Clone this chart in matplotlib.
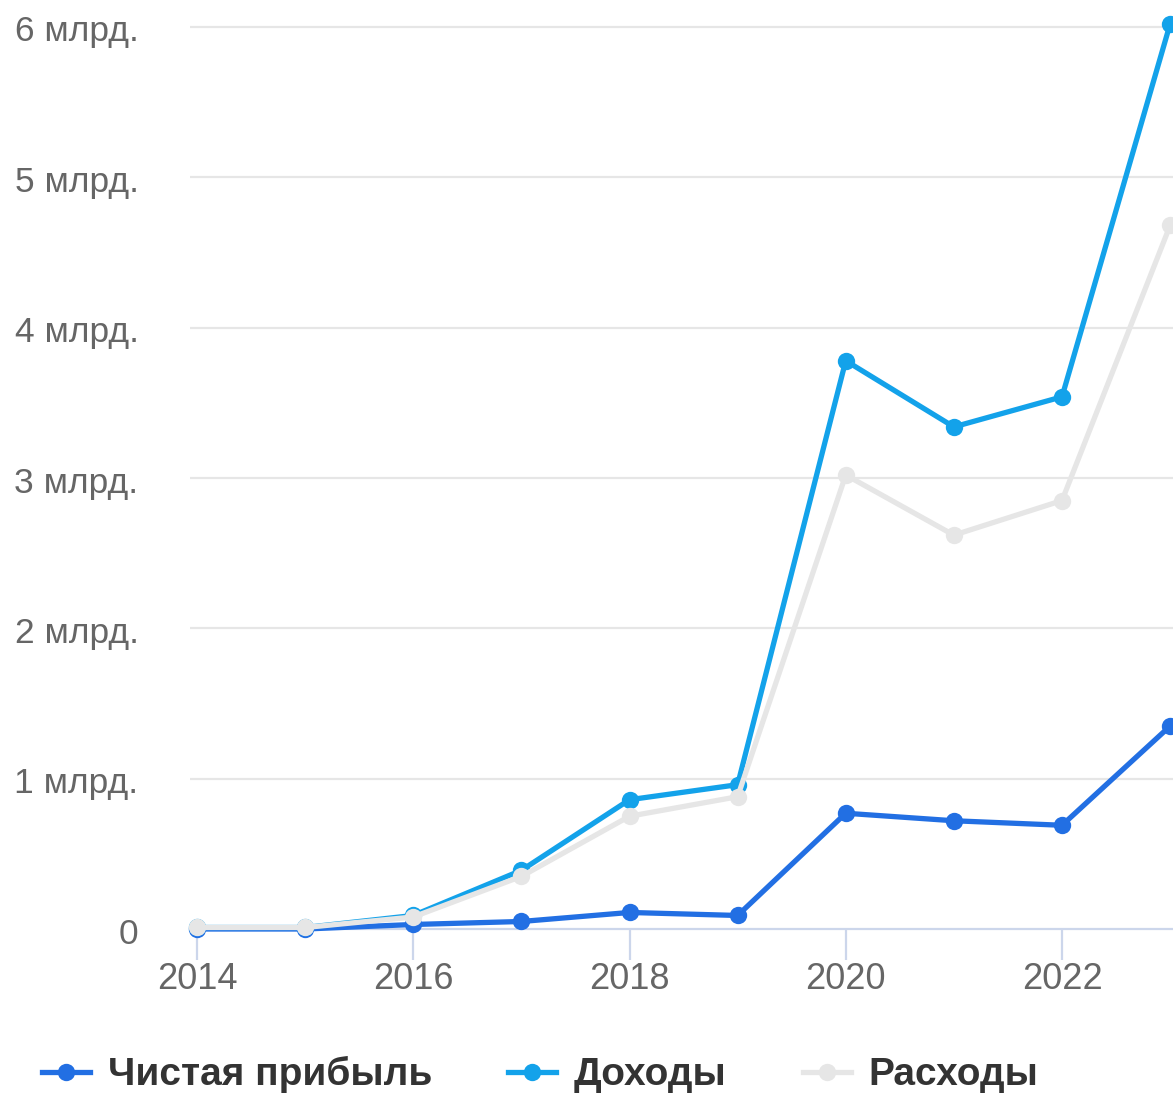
import matplotlib
matplotlib.use("Agg")
import matplotlib.pyplot as plt
import matplotlib.transforms as mtransforms
from matplotlib.lines import Line2D

years = [2014, 2015, 2016, 2017, 2018, 2019, 2020, 2021, 2022, 2023]
net_profit = [0.0, 0.0, 0.03, 0.05, 0.11, 0.09, 0.77, 0.72, 0.69, 1.35]
income = [0.01, 0.01, 0.09, 0.39, 0.86, 0.96, 3.78, 3.34, 3.54, 6.02]
expenses = [0.01, 0.01, 0.08, 0.35, 0.75, 0.88, 3.02, 2.62, 2.85, 4.68]
series_names = ["Чистая прибыль", "Доходы", "Расходы"]
colors = ["#226fe3", "#13a2ea", "#e6e6e6"]
ytick_vals = [0, 1, 2, 3, 4, 5, 6]
ytick_labels = ["0", "1 млрд.", "2 млрд.", "3 млрд.", "4 млрд.", "5 млрд.", "6 млрд."]
xtick_vals = [2014, 2016, 2018, 2020, 2022]

plt.rcParams['font.family'] = ['Liberation Sans', 'DejaVu Sans']

W, H = 1173, 1097
fig = plt.figure(figsize=(W / 100, H / 100), dpi=100)
fig.patch.set_facecolor("white")

ppu = (929 - 27) / 6.0
top_val = 6 + 27 / ppu
ax_bottom_px = 929
ax = fig.add_axes([190 / W, (H - ax_bottom_px) / H, 1 - 190 / W, ax_bottom_px / H])
ppy = (1062 - 197) / 8.0
ax.set_xlim(2014 - 7 / ppy, 2014 + (W - 197) / ppy)
ax.set_ylim(0, top_val)

for v in ytick_vals[1:]:
    ax.axhline(v, color="#e6e6e6", lw=1.6, zorder=1)

for s in ["top", "right", "left"]:
    ax.spines[s].set_visible(False)
ax.spines["bottom"].set_color("#ccd6eb")
ax.spines["bottom"].set_linewidth(1.6)
ax.spines["bottom"].set_zorder(2)

data = [net_profit, income, expenses]
for i, (name, vals, c) in enumerate(zip(series_names, data, colors)):
    ax.plot(years, vals, color=c, lw=3.8, marker="o", markersize=12.5,
            markeredgewidth=0, label=name, zorder=3 + i, clip_on=False,
            solid_joinstyle="round")

ax.set_yticks(ytick_vals)
ax.set_yticklabels(ytick_labels)
ax.tick_params(axis="y", length=0, pad=37, labelsize=25.5, labelcolor="#666666")
offset = mtransforms.ScaledTranslation(0, -5 / 100, fig.dpi_scale_trans)
for lbl in ax.get_yticklabels():
    lbl.set_va("center")
    lbl.set_transform(lbl.get_transform() + offset)
ax.set_xticks(xtick_vals)
ax.set_xticklabels([str(x) for x in xtick_vals])
ax.tick_params(axis="x", length=22, width=1.6, color="#ccd6eb", pad=2,
               labelsize=26, labelcolor="#666666")

handles = [Line2D([0], [0], color=c, lw=3.8, marker="o", markersize=12.5,
                  markeredgewidth=0) for c in colors]
leg = fig.legend(handles, series_names, loc="lower left",
                 bbox_to_anchor=(26 / W, -12 / H), ncol=3, frameon=False,
                 prop={"size": 28, "weight": "bold"}, handlelength=1.25,
                 handletextpad=0.45, columnspacing=1.95, borderaxespad=0)
for t in leg.get_texts():
    t.set_color("#333333")

fig.savefig("out.png", dpi=100, facecolor="white")
